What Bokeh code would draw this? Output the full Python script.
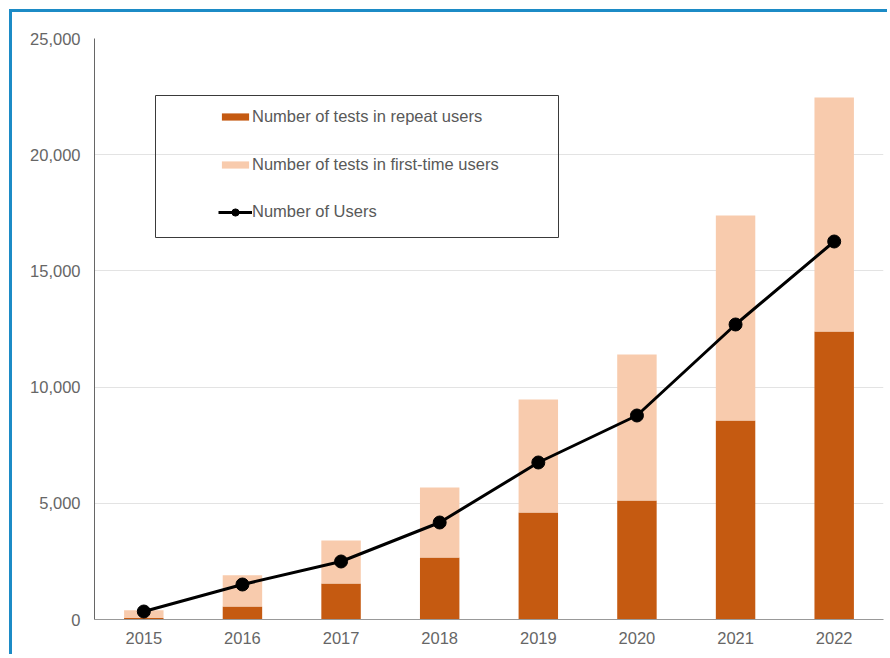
from bokeh.plotting import figure
from bokeh.models import Legend, LegendItem, BoxAnnotation, NumeralTickFormatter, FixedTicker
from bokeh.embed import file_html
from bokeh.resources import INLINE

years = ["2015", "2016", "2017", "2018", "2019", "2020", "2021", "2022"]
repeat_tests = [60, 560, 1550, 2670, 4600, 5120, 8560, 12390]
first_time_tests = [340, 1340, 1850, 3010, 4870, 6280, 8820, 10070]
users = [344, 1506, 2496, 4174, 6756, 8778, 12694, 16265]
y_ticks = [0, 5000, 10000, 15000, 20000, 25000]

totals = [r + f for r, f in zip(repeat_tests, first_time_tests)]

FONT = "Liberation Sans"

p = figure(x_range=years, y_range=(0, 25000), width=878, height=645,
           output_backend="svg", toolbar_location=None,
           min_border_left=82, min_border_right=7, min_border_top=26, min_border_bottom=38)
p.styles = {"border-left": "3px solid #1c8bc6", "border-top": "3px solid #1c8bc6",
            "margin-left": "9px", "margin-top": "9px"}
p.outline_line_color = None
p.xgrid.grid_line_color = None
p.ygrid.grid_line_color = "#e3e3e3"
p.ygrid.grid_line_width = 1

p.yaxis.ticker = FixedTicker(ticks=y_ticks)
p.yaxis.formatter = NumeralTickFormatter(format="0,0")
for ax in (p.xaxis, p.yaxis):
    ax.major_tick_line_color = None
    ax.minor_tick_line_color = None
    ax.major_tick_out = 0
    ax.major_tick_in = 0
    ax.major_label_text_font = FONT
    ax.major_label_text_font_size = "16.5px"
    ax.major_label_text_color = "#666666"
p.yaxis.axis_line_color = "#666666"
p.xaxis.axis_line_color = "#999999"
p.yaxis.major_label_standoff = 14
p.xaxis.major_label_standoff = 12

r1 = p.vbar(x=years, top=repeat_tests, width=0.4, color="#c55a11", line_color=None)
r2 = p.vbar(x=years, bottom=repeat_tests, top=totals, width=0.4, color="#f8cbad", line_color=None)
l1 = p.line(x=years, y=users, line_color="black", line_width=3)
s1 = p.scatter(x=years, y=users, size=13, color="black")

# legend frame (screen units, relative to the plot frame, y measured from the bottom)
box = BoxAnnotation(left=61, right=464, top=524, bottom=382,
                    left_units="screen", right_units="screen",
                    top_units="screen", bottom_units="screen",
                    fill_color=None, fill_alpha=0,
                    line_color="#3a3a3a", line_alpha=1, line_width=1)
p.add_layout(box)


def style_legend(lg, gh):
    lg.border_line_color = None
    lg.background_fill_color = None
    lg.background_fill_alpha = 0
    lg.padding = 0
    lg.margin = 0
    lg.spacing = 29
    lg.glyph_width = 34
    lg.glyph_height = gh
    lg.label_standoff = 0
    lg.label_text_font = FONT
    lg.label_text_font_size = "16.5px"
    lg.label_text_color = "#595959"


legend1 = Legend(items=[
    LegendItem(label="Number of tests in repeat users", renderers=[r1]),
    LegendItem(label="Number of tests in first-time users", renderers=[r2]),
], location=(124, 445))
style_legend(legend1, 9)
p.add_layout(legend1, "center")

legend2 = Legend(items=[
    LegendItem(label="Number of Users", renderers=[l1, s1]),
], location=(124, 398))
style_legend(legend2, 18)
p.add_layout(legend2, "center")

open("out.html", "w").write(file_html(p, INLINE))
